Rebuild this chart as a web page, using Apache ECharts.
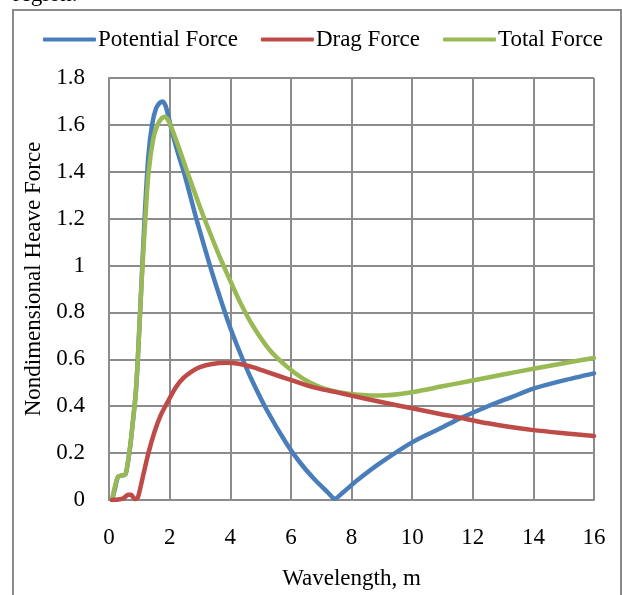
<!DOCTYPE html>
<html>
<head>
<meta charset="utf-8">
<script src="https://cdn.jsdelivr.net/npm/echarts@6/dist/echarts.min.js"></script>
<style>html,body{margin:0;padding:0;background:#fff}#c{width:622px;height:595px}</style>
</head>
<body>
<div id="c"></div>
<script>
const seriesNames = ['Potential Force', 'Drag Force', 'Total Force'];
const xTicks = [0, 2, 4, 6, 8, 10, 12, 14, 16];
const yTicks = [0, 0.2, 0.4, 0.6, 0.8, 1, 1.2, 1.4, 1.6, 1.8];

const potentialForce = [
  [0.1,0],[0.2,0.05],[0.3,0.1],[0.45,0.105],[0.55,0.11],[0.69,0.22],[0.8,0.35],[0.88,0.45],
  [0.95,0.6],[1.08,0.95],[1.19,1.24],[1.3,1.47],[1.42,1.6],[1.55,1.67],[1.68,1.695],[1.77,1.70],
  [1.87,1.68],[1.97,1.63],[2.07,1.575],[2.25,1.49],[2.5,1.385],[2.88,1.2],[3.33,1.0],[3.66,0.865],
  [4.0,0.735],[4.38,0.61],[4.7,0.515],[5.2,0.385],[5.86,0.24],[6.3,0.16],[6.8,0.085],[7.2,0.035],
  [7.45,0.005],[7.7,0.03],[8.2,0.085],[8.94,0.157],[10.04,0.249],[11.0,0.31],[11.58,0.348],
  [12.5,0.4],[13.3,0.44],[14.0,0.475],[15.0,0.51],[16.0,0.54]
];
const dragForce = [
  [0.1,0],[0.35,0.003],[0.5,0.01],[0.63,0.022],[0.73,0.022],[0.85,0.004],[0.95,0.01],[1.1,0.09],
  [1.3,0.2],[1.5,0.29],[1.7,0.36],[1.9,0.41],[2.2,0.48],[2.45,0.52],[2.75,0.55],[3.0,0.567],
  [3.4,0.58],[3.88,0.585],[4.32,0.58],[4.8,0.565],[5.3,0.542],[5.86,0.518],[6.5,0.49],[7.0,0.473],
  [7.46,0.461],[8.0,0.445],[8.94,0.419],[10.04,0.39],[11.0,0.365],[11.58,0.351],[12.5,0.327],
  [13.3,0.31],[14.0,0.298],[15.0,0.285],[16.0,0.273]
];
const totalForce = [
  [0.1,0],[0.2,0.06],[0.3,0.1],[0.45,0.105],[0.55,0.11],[0.69,0.22],[0.8,0.35],[0.88,0.45],
  [0.95,0.6],[1.08,0.94],[1.2,1.2],[1.3,1.39],[1.46,1.54],[1.6,1.60],[1.75,1.63],[1.85,1.635],
  [1.95,1.62],[2.07,1.585],[2.34,1.49],[2.58,1.40],[3.0,1.25],[3.33,1.14],[3.66,1.035],[4.0,0.935],
  [4.32,0.845],[4.76,0.74],[5.3,0.64],[5.86,0.57],[6.4,0.518],[6.96,0.482],[7.5,0.462],
  [8.06,0.451],[8.6,0.446],[9.16,0.447],[10.04,0.461],[11.0,0.485],[12.0,0.51],[13.0,0.535],
  [14.0,0.56],[15.0,0.583],[16.0,0.606]
];
const colors = ['#4A7EBB', '#BE4B48', '#98B954'];
const dataSets = [potentialForce, dragForce, totalForce];

const font = '"Liberation Serif", "Times New Roman", serif';
const gridColor = '#8c8c8c';
const fs = 23;

const chart = echarts.init(document.getElementById('c'), null, {renderer: 'canvas'});
chart.setOption({
  animation: false,
  backgroundColor: '#fff',
  graphic: [
    {type: 'rect', shape: {x: 13, y: 10, width: 608, height: 600},
     style: {fill: 'none', stroke: '#8a8a8a', lineWidth: 2}, z: -1},
    {type: 'text', left: 13, top: -17,
     style: {text: 'region.', font: fs + 'px ' + font, fill: '#000'}}
  ],
  legend: {
    top: 23, left: 38,
    itemWidth: 53, itemHeight: 4, itemGap: 23,
    icon: 'roundRect',
    textStyle: {fontFamily: font, fontSize: fs, color: '#000', padding: [0,0,0,-3]},
    data: seriesNames
  },
  grid: {left: 109, right: 28, top: 78, bottom: 93, containLabel: false},
  xAxis: {
    type: 'value', min: 0, max: 16, interval: 2,
    name: 'Wavelength, m', nameLocation: 'middle', nameGap: 67,
    nameTextStyle: {fontFamily: font, fontSize: fs, color: '#000'},
    axisLine: {show: true, lineStyle: {color: gridColor, width: 2}},
    axisTick: {show: false},
    axisLabel: {fontFamily: font, fontSize: fs, color: '#000', margin: 26,
      formatter: v => xTicks.includes(v) ? String(v) : ''},
    splitLine: {show: true, lineStyle: {color: gridColor, width: 2}}
  },
  yAxis: {
    type: 'value', min: 0, max: 1.8, interval: 0.2,
    name: 'Nondimensional Heave Force', nameLocation: 'middle', nameGap: 64,
    nameTextStyle: {fontFamily: font, fontSize: fs, color: '#000', padding: [0, 0, 0, 20]},
    axisLine: {show: true, lineStyle: {color: gridColor, width: 2}},
    axisTick: {show: false},
    axisLabel: {fontFamily: font, fontSize: fs, color: '#000', margin: 24,
      formatter: v => {
        const t = yTicks.find(y => Math.abs(y - v) < 1e-6);
        return t === undefined ? '' : String(t);
      }},
    splitLine: {show: true, lineStyle: {color: gridColor, width: 2}}
  },
  series: seriesNames.map((n, i) => ({
    name: n, type: 'line', data: dataSets[i],
    smooth: 0.25, showSymbol: false, symbol: 'none',
    lineStyle: {color: colors[i], width: 4.5, cap: 'round', join: 'round'},
    itemStyle: {color: colors[i]},
    z: i === 2 ? 3 : (i === 0 ? 2 : 4)
  }))
});
</script>
</body>
</html>
